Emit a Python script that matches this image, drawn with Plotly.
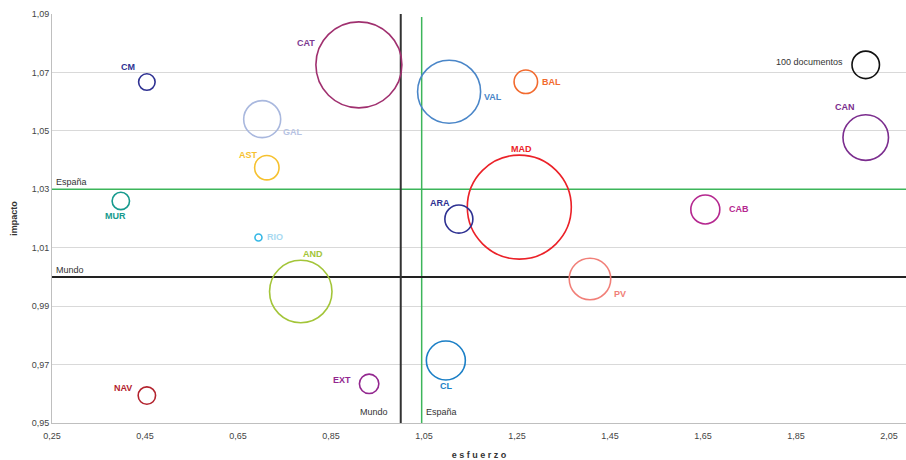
import plotly.graph_objects as go

regions = ["CM", "GAL", "AST", "MUR", "RIO", "AND", "NAV", "CAT", "VAL", "BAL",
           "MAD", "ARA", "CL", "EXT", "PV", "CAB", "CAN"]
esfuerzo = [0.454, 0.702, 0.712, 0.398, 0.694, 0.785, 0.454, 0.910, 1.104, 1.269,
            1.255, 1.125, 1.097, 0.932, 1.407, 1.655, 2.000]
impacto = [1.0667, 1.0540, 1.0374, 1.0260, 1.0135, 0.9950, 0.9594, 1.0726, 1.0634, 1.0668,
           1.0239, 1.0198, 0.9714, 0.9634, 0.9993, 1.0231, 1.0477]
documentos = [36, 181, 79, 40, 6.5, 516, 40, 978, 525, 73,
              1430, 104, 201, 50, 228, 111, 274]
colors = ["#2e3192", "#a9b8de", "#f6c12f", "#169a8e", "#35b8e6", "#a3c539", "#b3232e",
          "#a0306f", "#4a86c8", "#f26a2e", "#eb2128", "#2e3192", "#1b7fc6", "#93278f",
          "#f17f78", "#b5278f", "#7b2d8e"]
label_colors = ["#2e3192", "#b7c3e3", "#f6c12f", "#169a8e", "#a7d9f1", "#a3c539", "#b3232e",
                "#7d3a91", "#4a86c8", "#f26a2e", "#eb2128", "#2e3192", "#1b7fc6", "#93278f",
                "#f17f78", "#b5278f", "#7b2d8e"]
# label offsets in px (dx, dy)
label_off = [(-19, 15), (31, -13), (-18, 13), (-5, -15), (17, 0), (12, 38), (-24, 8),
             (-53, 22), (44, -5), (26, 0), (2, 58), (-19, 16), (1, -26), (-27, 4),
             (30, -15), (34, 0), (-21, 31)]

ref_label = "100 documentos"
ref_x = [2.0]
ref_y = [1.0726]
ref_docs = [100]

mundo_x, mundo_y = 1.0, 1.0
espana_x, espana_y = 1.045, 1.03

xticks = [0.25, 0.45, 0.65, 0.85, 1.05, 1.25, 1.45, 1.65, 1.85, 2.05]
yticks = [0.95, 0.97, 0.99, 1.01, 1.03, 1.05, 1.07, 1.09]
xrange_ = [0.25, 2.0866]
yrange_ = [0.95, 1.09]

# plotly area mode: diameter = sqrt(2*size/sizeref)
sizeref = 2 * 100 / 27.5 ** 2

fig = go.Figure()

# reference lines
fig.add_trace(go.Scatter(x=[xrange_[0], xrange_[1]], y=[espana_y, espana_y], mode="lines",
                         line=dict(color="#3cb55a", width=1.5), hoverinfo="skip", showlegend=False))
fig.add_trace(go.Scatter(x=[espana_x, espana_x], y=[yrange_[0], 1.089], mode="lines",
                         line=dict(color="#3cb55a", width=1.5), hoverinfo="skip", showlegend=False))
fig.add_trace(go.Scatter(x=[xrange_[0], xrange_[1]], y=[mundo_y, mundo_y], mode="lines",
                         line=dict(color="#222222", width=2), hoverinfo="skip", showlegend=False))
fig.add_trace(go.Scatter(x=[mundo_x, mundo_x], y=[yrange_[0], yrange_[1]], mode="lines",
                         line=dict(color="#333333", width=2), hoverinfo="skip", showlegend=False))

fig.add_trace(go.Scatter(
    x=esfuerzo, y=impacto, mode="markers", text=regions,
    marker=dict(size=documentos, sizemode="area", sizeref=sizeref, opacity=1,
                color="rgba(0,0,0,0)", line=dict(color=colors, width=1.6)),
    showlegend=False))
fig.add_trace(go.Scatter(
    x=ref_x, y=ref_y, mode="markers",
    marker=dict(size=ref_docs, sizemode="area", sizeref=sizeref, opacity=1,
                color="rgba(0,0,0,0)", line=dict(color="#111111", width=1.6)),
    showlegend=False))

ann = []
for r, x, y, c, (dx, dy) in zip(regions, esfuerzo, impacto, label_colors, label_off):
    ann.append(dict(x=x, y=y, text="<b>" + r + "</b>",
                    xshift=dx, yshift=dy, showarrow=False,
                    font=dict(size=9, color=c, family="Liberation Sans, Arial")))
ann.append(dict(x=ref_x[0], y=ref_y[0], text=ref_label, xshift=-56, yshift=3, showarrow=False,
                font=dict(size=9, color="#333333", family="Liberation Sans, Arial")))
ann.append(dict(x=xrange_[0], y=espana_y, text="España", xanchor="left", yanchor="bottom",
                xshift=2, yshift=0, showarrow=False, font=dict(size=9, color="#333333")))
ann.append(dict(x=xrange_[0], y=mundo_y, text="Mundo", xanchor="left", yanchor="bottom",
                xshift=2, yshift=0, showarrow=False, font=dict(size=9, color="#333333")))
ann.append(dict(x=mundo_x, y=yrange_[0], text="Mundo", xanchor="right", yanchor="bottom",
                xshift=-11, yshift=4, showarrow=False, font=dict(size=9, color="#333333")))
ann.append(dict(x=espana_x, y=yrange_[0], text="España", xanchor="left", yanchor="bottom",
                xshift=2, yshift=4, showarrow=False, font=dict(size=9, color="#333333")))

fig.update_layout(
    width=906, height=460,
    margin=dict(l=52, r=0, t=14, b=37),
    plot_bgcolor="white", paper_bgcolor="white",
    separators=", ",
    font=dict(family="Liberation Sans, Arial", size=9, color="#444444"),
    annotations=ann,
    xaxis=dict(range=xrange_, tickvals=xticks, tickformat=".2f", showgrid=False,
               zeroline=False, showline=True, linecolor="#bfbfbf", linewidth=1,
               ticks="", tickfont=dict(size=9, color="#444444"), automargin=False,
               ticklabelstandoff=4,
               title=dict(text="<b>e s f u e r z o</b>", font=dict(size=9, color="#333333"), standoff=14)),
    yaxis=dict(range=yrange_, tickvals=yticks, tickformat=".2f", showgrid=True,
               gridcolor="#d9d9d9", gridwidth=1, zeroline=False, showline=True,
               linecolor="#bfbfbf", linewidth=1, ticks="", automargin=False,
               tickfont=dict(size=9, color="#444444"),
               title=dict(text="<b>impacto</b>", font=dict(size=9, color="#333333"), standoff=12)),
)

fig.write_html("out.html", config={"displayModeBar": False},
               post_script="document.body.style.margin='0';document.body.style.overflow='hidden';")
